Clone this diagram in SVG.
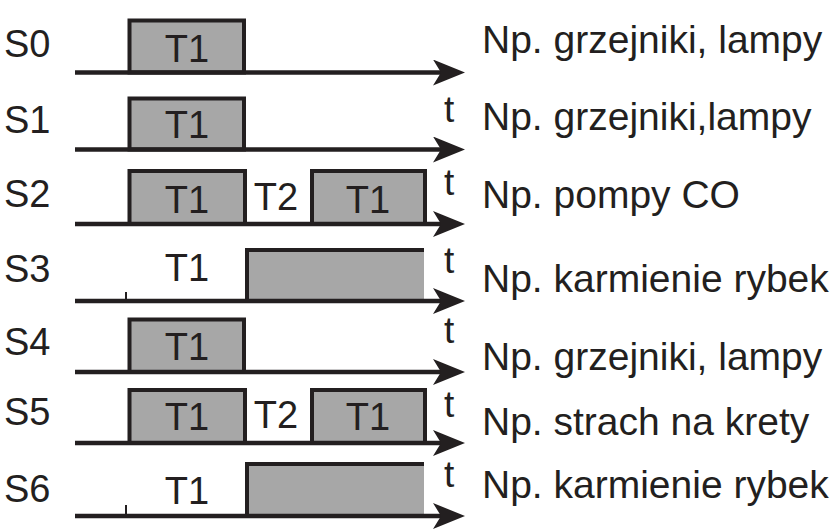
<svg xmlns="http://www.w3.org/2000/svg" width="836" height="529" viewBox="0 0 836 529">
<style>
text{font-family:"Liberation Sans",Arial,sans-serif;fill:#231f20}
.s{font-size:38px}
.tl{font-size:38px;text-anchor:middle}
.t{font-size:37px}
.d{font-size:39px}
.box{fill:#a7a7a7;stroke:#231f20;stroke-width:4}
.fill{fill:#a7a7a7}
.edge{fill:none;stroke:#231f20;stroke-width:4}
.tick{stroke:#231f20;stroke-width:2}
.axis{stroke:#231f20;stroke-width:4.5;marker-end:url(#arr)}
</style>
<defs>
<marker id="arr" markerUnits="userSpaceOnUse" markerWidth="32" markerHeight="26" viewBox="0 0 32 26" refX="17" refY="13" orient="auto">
<path d="M0,0 L32,13 L0,26 L8,13 Z" fill="#231f20"/>
</marker>
</defs>
<rect width="836" height="529" fill="#fff"/>
<g id="S0">
<rect class="box" x="129.5" y="20.5" width="114.5" height="52"/>
<text class="s" x="4" y="57">S0</text>
<text class="tl" x="187" y="62">T1</text>
<text class="d" x="482" y="53">Np. grzejniki, lampy</text>
</g>
<g id="S1">
<rect class="box" x="129.5" y="98.5" width="114.5" height="51"/>
<text class="s" x="4" y="133">S1</text>
<text class="tl" x="187" y="138">T1</text>
<text class="t" x="444" y="122">t</text>
<text class="d" x="482" y="130">Np. grzejniki,lampy</text>
</g>
<g id="S2">
<rect class="box" x="129.5" y="171" width="115.5" height="53"/>
<rect class="box" x="312" y="171" width="113" height="53"/>
<text class="s" x="4" y="207">S2</text>
<text class="tl" x="187" y="213">T1</text>
<text class="tl" x="276" y="210">T2</text>
<text class="tl" x="368" y="213">T1</text>
<text class="t" x="444" y="195">t</text>
<text class="d" x="482" y="208">Np. pompy CO</text>
</g>
<g id="S3">
<rect class="fill" x="247" y="250" width="177" height="51"/>
<path class="edge" d="M247,301 V250 H424"/>
<line class="tick" x1="126" y1="292" x2="126" y2="301"/>
<text class="s" x="4" y="282">S3</text>
<text class="tl" x="187" y="281">T1</text>
<text class="t" x="444" y="273">t</text>
<text class="d" x="482" y="292">Np. karmienie rybek</text>
</g>
<g id="S4">
<rect class="box" x="129.5" y="319.5" width="114.5" height="52.5"/>
<text class="s" x="4" y="355">S4</text>
<text class="tl" x="187" y="360">T1</text>
<text class="t" x="444" y="343">t</text>
<text class="d" x="482" y="370">Np. grzejniki, lampy</text>
</g>
<g id="S5">
<rect class="box" x="129.5" y="390" width="115.5" height="53"/>
<rect class="box" x="312" y="390" width="113" height="53"/>
<text class="s" x="4" y="425">S5</text>
<text class="tl" x="187" y="430">T1</text>
<text class="tl" x="276" y="428">T2</text>
<text class="tl" x="368" y="430">T1</text>
<text class="t" x="444" y="417">t</text>
<text class="d" x="482" y="435">Np. strach na krety</text>
</g>
<g id="S6">
<rect class="fill" x="247" y="464" width="177" height="52"/>
<path class="edge" d="M247,516 V464 H424"/>
<line class="tick" x1="126" y1="505" x2="126" y2="516"/>
<text class="s" x="4" y="502">S6</text>
<text class="tl" x="187" y="504">T1</text>
<text class="t" x="444" y="487">t</text>
<text class="d" x="482" y="498">Np. karmienie rybek</text>
</g>
<g id="connectors">
<line class="axis" x1="75" y1="72.5" x2="450" y2="72.5"/>
<line class="axis" x1="75" y1="149.5" x2="450" y2="149.5"/>
<line class="axis" x1="75" y1="224" x2="450" y2="224"/>
<line class="axis" x1="75" y1="301" x2="450" y2="301"/>
<line class="axis" x1="75" y1="372" x2="450" y2="372"/>
<line class="axis" x1="75" y1="443" x2="450" y2="443"/>
<line class="axis" x1="75" y1="516" x2="450" y2="516"/>
</g>
</svg>
